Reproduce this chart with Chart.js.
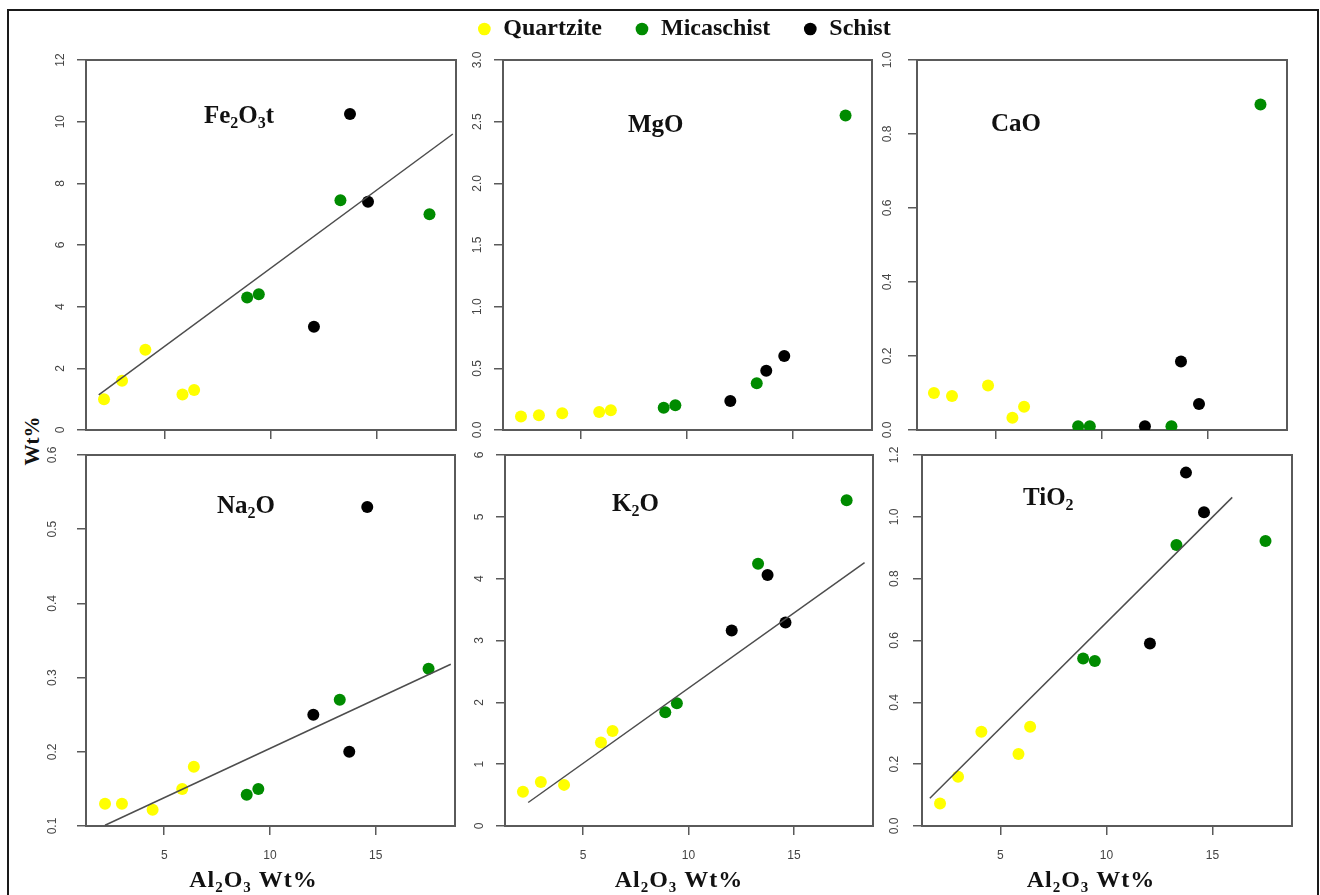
<!DOCTYPE html>
<html>
<head>
<meta charset="utf-8">
<title>Al2O3 variation diagrams</title>
<script src="https://cdn.jsdelivr.net/npm/chart.js@4.4.1/dist/chart.umd.min.js"></script>
<style>
  html, body { margin: 0; padding: 0; background: #fff; }
  body { position: relative; width: 1320px; height: 895px; overflow: hidden; }
  #frame { position: absolute; left: 7px; top: 9px; width: 1308px; height: 910px; border: 2px solid #1a1a1a; }
  canvas { position: absolute; }
  #ylabel { position: absolute; left: 32px; top: 441px; transform: translate(-50%, -50%) rotate(-90deg);
            font: bold 21px 'Liberation Serif', serif; color: #111; white-space: nowrap; }
</style>
</head>
<body>
<div id="frame"></div>
<div id="ylabel">Wt%</div>
<canvas id="fe"></canvas>
<canvas id="mg"></canvas>
<canvas id="ca"></canvas>
<canvas id="na"></canvas>
<canvas id="k"></canvas>
<canvas id="ti"></canvas>
<script>
// Al2O3 wt% (x axis) for each rock group
const quartziteAl2O3 = [2.15, 3.0, 4.1, 5.85, 6.4];
const micaschistAl2O3 = [8.9, 9.45, 13.3, 17.5];
const schistAl2O3 = [12.05, 13.75, 14.6];
// third quartzite plots a bit further right in the CaO and Na2O panels
const quartziteAl2O3CaO = [2.1, 2.95, 4.65, 5.8, 6.35];
const quartziteAl2O3Na2O = [2.2, 3.0, 4.45, 5.85, 6.4];

const quartziteFe2O3 = [1.0, 1.6, 2.6, 1.15, 1.3];
const micaschistFe2O3 = [4.3, 4.4, 7.45, 7.0];
const schistFe2O3 = [3.35, 10.25, 7.4];
const fitFe2O3 = [[1.9, 1.14], [18.6, 9.6]];

const quartziteMgO = [0.11, 0.12, 0.135, 0.145, 0.16];
const micaschistMgO = [0.18, 0.2, 0.38, 2.55];
const schistMgO = [0.235, 0.48, 0.6];

const quartziteCaO = [0.1, 0.092, 0.12, 0.033, 0.063];
const micaschistCaO = [0.01, 0.01, 0.01, 0.88];
const schistCaO = [0.01, 0.185, 0.07];

const quartziteNa2O = [0.13, 0.13, 0.122, 0.15, 0.18];
const micaschistNa2O = [0.142, 0.15, 0.27, 0.312];
const schistNa2O = [0.25, 0.2, 0.53];
const fitNa2O = [[2.2, 0.101], [18.55, 0.318]];

const quartziteK2O = [0.555, 0.71, 0.665, 1.35, 1.535];
const micaschistK2O = [1.84, 1.985, 4.24, 5.27];
const schistK2O = [3.16, 4.06, 3.29];
const fitK2O = [[2.4, 0.38], [18.35, 4.26]];

const quartziteTiO2 = [0.073, 0.159, 0.305, 0.233, 0.321];
const micaschistTiO2 = [0.542, 0.534, 0.909, 0.922];
const schistTiO2 = [0.59, 1.143, 1.015];
const fitTiO2 = [[1.67, 0.09], [15.93, 1.063]];

const SERIF = "'Liberation Serif', 'Times New Roman', serif";
const SANS = "'Liberation Sans', Arial, sans-serif";
const AXIS_W = 70;
const GREY = '#5a5a5a';
const AXIS_TITLE = [['Al', 0], ['2', 1], ['O', 0], ['3', 1], [' Wt%', 0]];

Chart.defaults.font.family = SANS;

function pts(xs, ys) {
    return xs.map((x, i) => ({ x: x, y: ys[i] }));
}

// text with subscript runs, e.g. Fe2O3
function drawRuns(ctx, runs, x, y, size, align, spacing) {
    const subSize = Math.round(size * 0.62);
    const fontFor = sub => 'bold ' + (sub ? subSize : size) + 'px ' + SERIF;
    ctx.letterSpacing = (spacing || 0) + 'px';
    let total = 0;
    runs.forEach(([t, sub]) => { ctx.font = fontFor(sub); total += ctx.measureText(t).width; });
    if (align === 'center') x -= total / 2;
    ctx.textAlign = 'left';
    ctx.textBaseline = 'alphabetic';
    ctx.fillStyle = '#111';
    runs.forEach(([t, sub]) => {
        ctx.font = fontFor(sub);
        ctx.fillText(t, x, sub ? y + size * 0.2 : y);
        x += ctx.measureText(t).width;
    });
    ctx.letterSpacing = '0px';
}

const panels = [
    { id: 'fe', left: 86, top: 60, w: 370, h: 370, xq: quartziteAl2O3,
      q: quartziteFe2O3, m: micaschistFe2O3, s: schistFe2O3, fit: fitFe2O3,
      min: 0, max: 12, step: 2, dec: 0, gap: 10,
      label: [['Fe', 0], ['2', 1], ['O', 0], ['3', 1], ['t', 0]], lx: 118, ly: 63 },
    { id: 'mg', left: 503, top: 60, w: 369, h: 370, xq: quartziteAl2O3, legend: true,
      q: quartziteMgO, m: micaschistMgO, s: schistMgO,
      min: 0, max: 3, step: 0.5, dec: 1, gap: 8,
      label: [['MgO', 0]], lx: 125, ly: 72 },
    { id: 'ca', left: 917, top: 60, w: 370, h: 370, xq: quartziteAl2O3CaO,
      q: quartziteCaO, m: micaschistCaO, s: schistCaO,
      min: 0, max: 1, step: 0.2, dec: 1, gap: 12,
      label: [['CaO', 0]], lx: 74, ly: 71 },
    { id: 'na', left: 86, top: 455, w: 369, h: 371, xq: quartziteAl2O3Na2O, bottom: true,
      q: quartziteNa2O, m: micaschistNa2O, s: schistNa2O, fit: fitNa2O,
      min: 0.1, max: 0.6, step: 0.1, dec: 1, gap: 16, tx: -17,
      label: [['Na', 0], ['2', 1], ['O', 0]], lx: 131, ly: 58 },
    { id: 'k', left: 505, top: 455, w: 368, h: 371, xq: quartziteAl2O3, bottom: true,
      q: quartziteK2O, m: micaschistK2O, s: schistK2O, fit: fitK2O,
      min: 0, max: 6, step: 1, dec: 0, gap: 13, tx: -10,
      label: [['K', 0], ['2', 1], ['O', 0]], lx: 107, ly: 56 },
    { id: 'ti', left: 922, top: 455, w: 370, h: 371, xq: quartziteAl2O3, bottom: true,
      q: quartziteTiO2, m: micaschistTiO2, s: schistTiO2, fit: fitTiO2,
      min: 0, max: 1.2, step: 0.2, dec: 1, gap: 10, tx: -16,
      label: [['Ti', 0], ['O', 0], ['2', 1]], lx: 101, ly: 50 },
];

function makeChart(p) {
    const canvasTop = p.legend ? -16 : (p.bottom ? 415 : 0);
    const canvasBottom = p.bottom ? 895 : 460;
    const headH = p.top - canvasTop;
    const rightW = p.legend ? 63 : 6;
    const canvas = document.getElementById(p.id);
    canvas.width = AXIS_W + p.w + rightW;
    canvas.height = canvasBottom - canvasTop;
    canvas.style.left = (p.left - AXIS_W) + 'px';
    canvas.style.top = canvasTop + 'px';
    const xH = canvas.height - headH - p.h;

    const pointStyle = { borderWidth: 0, pointRadius: 6, pointHoverRadius: 6, order: 1 };
    const datasets = [
        Object.assign({ label: 'Quartzite', data: pts(p.xq, p.q), backgroundColor: '#ffff00' }, pointStyle),
        Object.assign({ label: 'Micaschist', data: pts(micaschistAl2O3, p.m), backgroundColor: '#008b00' }, pointStyle),
        Object.assign({ label: 'Schist', data: pts(schistAl2O3, p.s), backgroundColor: '#000000' }, pointStyle),
    ];
    if (p.fit) {
        datasets.push({
            label: 'fit', data: p.fit.map(([x, y]) => ({ x, y })), showLine: true,
            borderColor: '#4d4d4d', borderWidth: 1.5, pointRadius: 0, order: 0
        });
    }

    const decor = {
        id: 'decor',
        beforeDatasetsDraw(chart) {
            const a = chart.chartArea, ctx = chart.ctx;
            ctx.save();
            ctx.strokeStyle = GREY;
            ctx.lineWidth = 2;
            ctx.strokeRect(a.left, a.top, a.right - a.left, a.bottom - a.top);
            ctx.restore();
        },
        afterDraw(chart) {
            const a = chart.chartArea, ctx = chart.ctx;
            ctx.save();
            drawRuns(ctx, p.label, a.left + p.lx, a.top + p.ly, 25, 'left');
            if (p.bottom) {
                drawRuns(ctx, AXIS_TITLE, (a.left + a.right) / 2 + p.tx, a.bottom + 61, 24, 'center', 1);
            }
            ctx.restore();
        }
    };

    const tickGrid = { drawOnChartArea: false, drawTicks: true, tickLength: 9, color: GREY, lineWidth: 1.5 };
    const scales = {
        x: {
            type: 'linear', position: 'bottom', min: 1.3, max: 18.75,
            afterFit: s => { s.height = xH; },
            border: { display: false }, grid: tickGrid,
            ticks: { stepSize: 5, includeBounds: false, display: !!p.bottom, padding: 13,
                     color: '#444', font: { size: 12 }, maxRotation: 0 }
        },
        y: {
            type: 'linear', position: 'left', min: p.min, max: p.max,
            afterFit: s => { s.width = AXIS_W; },
            border: { display: false }, grid: tickGrid,
            ticks: { stepSize: p.step, includeBounds: false, minRotation: 90, maxRotation: 90,
                     crossAlign: 'center', padding: p.gap, color: '#444', font: { size: 12 },
                     callback: v => v.toFixed(p.dec) }
        }
    };
    if (p.legend) {
        // empty right-hand box so the legend can run past the plot
        scales.yr = {
            type: 'linear', position: 'right', afterFit: s => { s.width = rightW; },
            border: { display: false }, grid: { display: false }, ticks: { display: false }
        };
    }

    return new Chart(canvas, {
        type: 'scatter',
        data: { datasets: datasets },
        options: {
            responsive: false,
            animation: false,
            events: [],
            layout: { padding: { top: p.legend ? 0 : headH, right: p.legend ? 0 : rightW, left: 0, bottom: 0 } },
            scales: scales,
            plugins: {
                legend: p.legend ? {
                    display: true, position: 'top', fullSize: true,
                    labels: {
                        usePointStyle: true, boxWidth: 14, boxHeight: 9, padding: 33, color: '#111',
                        font: { family: SERIF, size: 24, weight: 'bold' },
                        filter: item => item.text !== 'fit'
                    }
                } : { display: false },
                subtitle: p.legend ? {
                    display: true, text: '', weight: 500,
                    padding: { top: 8, bottom: 0 }, font: { size: 1, lineHeight: 1 }
                } : { display: false },
                tooltip: { enabled: false }
            }
        },
        plugins: [decor]
    });
}

panels.forEach(makeChart);
</script>
</body>
</html>
